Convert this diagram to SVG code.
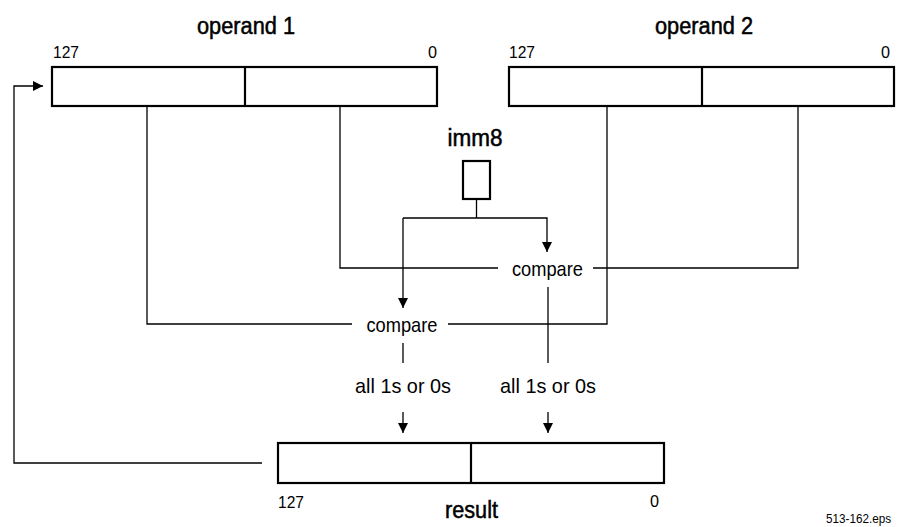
<svg xmlns="http://www.w3.org/2000/svg" width="900" height="527" viewBox="0 0 900 527">
<defs>
<style>
.box{fill:#fff;stroke:#000;stroke-width:2.2}
.ln{fill:none;stroke:#000;stroke-width:1.3}
.t{font-family:"Liberation Sans",Arial,sans-serif;fill:#000}
.title{font-size:23px;stroke:#000;stroke-width:0.5}
.lab{font-size:21px}
.num{font-size:16px}
</style>
<marker id="ah" viewBox="0 0 10 10" refX="10" refY="5" markerWidth="10" markerHeight="10" markerUnits="userSpaceOnUse" orient="auto">
<path d="M0,0 L10,5 L0,10 Z" fill="#000"/>
</marker>
</defs>
<rect width="900" height="527" fill="#fff"/>
<g id="operand1">
<text class="t title" x="246" y="34" text-anchor="middle" textLength="98" lengthAdjust="spacingAndGlyphs">operand 1</text>
<text class="t num" x="53" y="58" textLength="26" lengthAdjust="spacingAndGlyphs">127</text>
<text class="t num" x="437" y="58" text-anchor="end" textLength="9" lengthAdjust="spacingAndGlyphs">0</text>
<rect class="box" x="52" y="67" width="385" height="39"/>
<line class="box" x1="245" y1="67" x2="245" y2="106"/>
</g>
<g id="operand2">
<text class="t title" x="704" y="34" text-anchor="middle" textLength="98" lengthAdjust="spacingAndGlyphs">operand 2</text>
<text class="t num" x="509" y="58" textLength="26" lengthAdjust="spacingAndGlyphs">127</text>
<text class="t num" x="890" y="58" text-anchor="end" textLength="9" lengthAdjust="spacingAndGlyphs">0</text>
<rect class="box" x="509" y="67" width="385" height="39"/>
<line class="box" x1="702" y1="67" x2="702" y2="106"/>
</g>
<g id="imm8">
<text class="t title" x="475" y="146" text-anchor="middle" textLength="55" lengthAdjust="spacingAndGlyphs">imm8</text>
<rect class="box" x="463" y="161" width="27" height="38"/>
</g>
<g id="compare1">
<text class="t lab" x="547.5" y="276" text-anchor="middle" textLength="71" lengthAdjust="spacingAndGlyphs">compare</text>
</g>
<g id="compare2">
<text class="t lab" x="402" y="332" text-anchor="middle" textLength="71" lengthAdjust="spacingAndGlyphs">compare</text>
</g>
<g id="label1">
<text class="t lab" x="403" y="393" text-anchor="middle" textLength="96" lengthAdjust="spacingAndGlyphs">all 1s or 0s</text>
</g>
<g id="label2">
<text class="t lab" x="548" y="393" text-anchor="middle" textLength="96" lengthAdjust="spacingAndGlyphs">all 1s or 0s</text>
</g>
<g id="result">
<rect class="box" x="278" y="443" width="386" height="40"/>
<line class="box" x1="471" y1="443" x2="471" y2="483"/>
<text class="t num" x="278" y="508" textLength="26" lengthAdjust="spacingAndGlyphs">127</text>
<text class="t num" x="659" y="507" text-anchor="end" textLength="9" lengthAdjust="spacingAndGlyphs">0</text>
<text class="t title" x="471.5" y="518" text-anchor="middle" textLength="53" lengthAdjust="spacingAndGlyphs">result</text>
</g>
<text class="t" x="891" y="523" font-size="13" text-anchor="end" textLength="65" lengthAdjust="spacingAndGlyphs">513-162.eps</text>
<g id="connectors">
<polyline class="ln" points="147,106 147,324 352,324"/>
<polyline class="ln" points="340,106 340,268 498,268"/>
<polyline class="ln" points="607,106 607,324 448,324"/>
<polyline class="ln" points="798,106 798,268 593,268"/>
<line class="ln" x1="476.5" y1="199" x2="476.5" y2="218"/>
<polyline class="ln" points="403,218 547,218 547,252" marker-end="url(#ah)"/>
<line class="ln" x1="403" y1="218" x2="403" y2="308" marker-end="url(#ah)"/>
<line class="ln" x1="403" y1="343" x2="403" y2="363"/>
<line class="ln" x1="548" y1="287" x2="548" y2="363"/>
<line class="ln" x1="403" y1="412" x2="403" y2="433" marker-end="url(#ah)"/>
<line class="ln" x1="548" y1="412" x2="548" y2="433" marker-end="url(#ah)"/>
<polyline class="ln" points="262,463 14,463 14,86 43,86" marker-end="url(#ah)"/>
</g>
</svg>
